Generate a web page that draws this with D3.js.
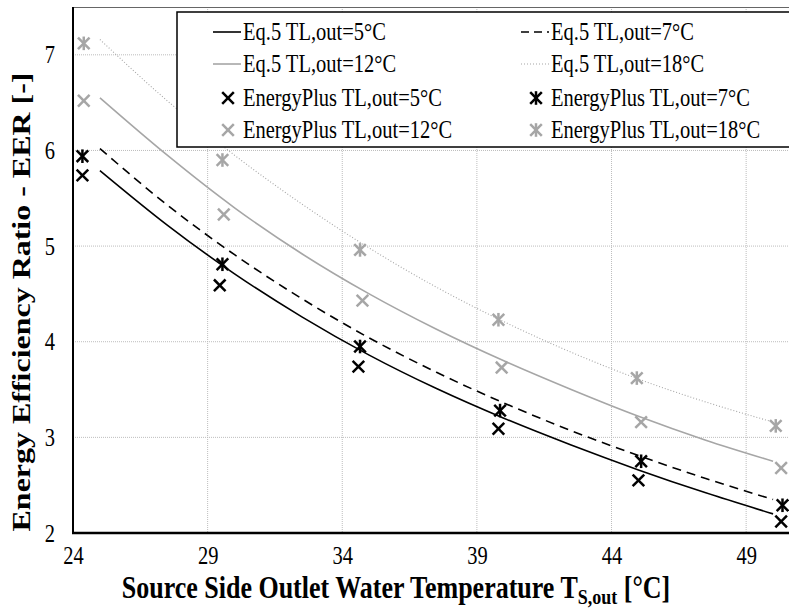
<!DOCTYPE html>
<html>
<head>
<meta charset="utf-8">
<script src="https://cdn.jsdelivr.net/npm/d3@7"></script>
<style>
  body { margin: 0; background: #fff; }
  svg { display: block; }
  text { font-family: "Liberation Serif", "Times New Roman", serif; fill: #000; }
</style>
</head>
<body>
<div id="chart"></div>
<script>
// tick labels
var xTicks = [24, 29, 34, 39, 44, 49];
var yTicks = [2, 3, 4, 5, 6, 7];

// Eq.5 curves
var eqX = [25, 27.5, 30, 32.5, 35, 37.5, 40, 42.5, 45, 47.5, 50];
var eq5 = [5.79, 5.22, 4.71, 4.26, 3.86, 3.51, 3.20, 2.92, 2.66, 2.42, 2.20];
var eq7 = [6.02, 5.43, 4.91, 4.45, 4.04, 3.68, 3.36, 3.07, 2.81, 2.57, 2.35];
var eq12 = [6.55, 5.95, 5.40, 4.92, 4.50, 4.13, 3.80, 3.50, 3.22, 2.97, 2.75];
var eq18 = [7.16, 6.52, 5.95, 5.44, 4.98, 4.57, 4.21, 3.89, 3.61, 3.37, 3.16];

// EnergyPlus points
var ep5X = [24.35, 29.45, 34.6, 39.8, 45.0, 50.3];
var ep5 = [5.74, 4.59, 3.74, 3.09, 2.55, 2.12];
var ep7X = [24.35, 29.55, 34.66, 39.86, 45.1, 50.35];
var ep7 = [5.94, 4.81, 3.95, 3.28, 2.75, 2.29];
var ep12X = [24.4, 29.6, 34.75, 39.92, 45.1, 50.3];
var ep12 = [6.52, 5.33, 4.43, 3.73, 3.16, 2.68];
var ep18X = [24.4, 29.55, 34.66, 39.8, 44.94, 50.1];
var ep18 = [7.12, 5.90, 4.96, 4.23, 3.62, 3.12];

var grey = "#a6a6a6";
var stretch = 1.18;   // the source picture is taller than wide

var width = 789, height = 611;
var svg = d3.select("#chart").append("svg")
    .attr("width", width)
    .attr("height", height);

var x = d3.scaleLinear().domain([24, 51]).range([73, 800]);
var y = d3.scaleLinear().domain([2, 7.5]).range([533, 7]);

// grid
svg.append("g").selectAll("line")
    .data(yTicks.slice(1))
    .enter().append("line")
    .attr("x1", x(24)).attr("x2", width)
    .attr("y1", d => y(d)).attr("y2", d => y(d))
    .attr("stroke", "#bdbdbd").attr("stroke-dasharray", "1,1");
svg.append("g").selectAll("line")
    .data(xTicks.slice(1))
    .enter().append("line")
    .attr("x1", d => x(d)).attr("x2", d => x(d))
    .attr("y1", y(7.5)).attr("y2", y(2))
    .attr("stroke", "#bdbdbd").attr("stroke-dasharray", "1,1");

// top frame line
svg.append("line")
    .attr("x1", x(24)).attr("x2", width)
    .attr("y1", y(7.5) + 0.5).attr("y2", y(7.5) + 0.5)
    .attr("stroke", "#666").attr("stroke-width", 1);

// axes
var yAxis = svg.append("g")
    .attr("transform", "translate(" + x(24) + ",0)")
    .call(d3.axisLeft(y).tickValues(yTicks).tickSize(0).tickPadding(18).tickFormat(d3.format("d")));
var xAxis = svg.append("g")
    .attr("transform", "translate(0," + y(2) + ")")
    .call(d3.axisBottom(x).tickValues(xTicks).tickSize(0).tickPadding(10).tickFormat(d3.format("d")));
[yAxis, xAxis].forEach(function (a) {
    a.select(".domain").remove();
    a.attr("font-family", null).attr("font-size", null);
    a.selectAll("text")
        .attr("font-size", 20.5)
        .attr("fill", "#000");
});
// stretch tick labels vertically
yAxis.selectAll(".tick text")
    .attr("dy", null)
    .attr("dominant-baseline", "central")
    .attr("transform", "scale(1," + stretch + ")");
xAxis.selectAll(".tick text")
    .attr("dy", null)
    .attr("y", 0)
    .attr("transform", "translate(0,31) scale(1," + stretch + ")");

svg.append("line")
    .attr("x1", x(24)).attr("x2", x(24))
    .attr("y1", y(7.5)).attr("y2", y(2) + 1)
    .attr("stroke", "#000").attr("stroke-width", 2);
svg.append("line")
    .attr("x1", x(24) - 1).attr("x2", width)
    .attr("y1", y(2)).attr("y2", y(2))
    .attr("stroke", "#000").attr("stroke-width", 2.5);

// lines
var line = d3.line()
    .x(d => x(d[0]))
    .y(d => y(d[1]))
    .curve(d3.curveMonotoneX);

var curves = [
    {vals: eq5, color: "#000", dash: null, w: 1.6},
    {vals: eq7, color: "#000", dash: "9,6", w: 1.6},
    {vals: eq12, color: grey, dash: null, w: 1.6},
    {vals: eq18, color: grey, dash: "1,2", w: 1.1}
];
curves.forEach(function (c) {
    svg.append("path")
        .datum(eqX.map((v, i) => [v, c.vals[i]]))
        .attr("d", line)
        .attr("fill", "none")
        .attr("stroke", c.color)
        .attr("stroke-width", c.w)
        .attr("stroke-dasharray", c.dash);
});

// markers
function cross(g, cx, cy, color, star) {
    var s = 5.8;
    var m = g.append("g").attr("transform", "translate(" + cx + "," + cy + ")")
        .attr("stroke", color).attr("stroke-width", 2.5);
    m.append("line").attr("x1", -s).attr("y1", -s).attr("x2", s).attr("y2", s);
    m.append("line").attr("x1", -s).attr("y1", s).attr("x2", s).attr("y2", -s);
    if (star) {
        m.append("line").attr("x1", 0).attr("y1", -s - 1).attr("x2", 0).attr("y2", s + 1);
    }
}

var points = [
    {xs: ep5X, vals: ep5, color: "#000", star: false},
    {xs: ep7X, vals: ep7, color: "#000", star: true},
    {xs: ep12X, vals: ep12, color: grey, star: false},
    {xs: ep18X, vals: ep18, color: grey, star: true}
];
var markG = svg.append("g");
points.forEach(function (p) {
    p.xs.forEach(function (v, i) {
        cross(markG, x(v), y(p.vals[i]), p.color, p.star);
    });
});

// legend
var legend = svg.append("g");
legend.append("rect")
    .attr("x", 177).attr("y", 12)
    .attr("width", 700).attr("height", 135)
    .attr("fill", "#fff").attr("stroke", "#000").attr("stroke-width", 1.5);

var legendItems = [
    {label: "Eq.5 TL,out=5°C", type: "line", c: curves[0]},
    {label: "Eq.5 TL,out=7°C", type: "line", c: curves[1]},
    {label: "Eq.5 TL,out=12°C", type: "line", c: curves[2]},
    {label: "Eq.5 TL,out=18°C", type: "line", c: curves[3]},
    {label: "EnergyPlus TL,out=5°C", type: "mark", c: points[0]},
    {label: "EnergyPlus TL,out=7°C", type: "mark", c: points[1]},
    {label: "EnergyPlus TL,out=12°C", type: "mark", c: points[2]},
    {label: "EnergyPlus TL,out=18°C", type: "mark", c: points[3]}
];
var colX = [213, 521];
var rowY = [32, 64, 98, 130];
legendItems.forEach(function (it, i) {
    var lx = colX[i % 2], ly = rowY[Math.floor(i / 2)];
    if (it.type === "line") {
        legend.append("line")
            .attr("x1", lx).attr("x2", lx + 28)
            .attr("y1", ly).attr("y2", ly)
            .attr("stroke", it.c.color)
            .attr("stroke-width", it.c.w)
            .attr("stroke-dasharray", it.c.dash ? (it.c.dash === "9,6" ? "8,5" : it.c.dash) : null);
    } else {
        cross(legend, lx + 15, ly, it.c.color, it.c.star);
    }
    legend.append("text")
        .attr("transform", "translate(" + (lx + 30) + "," + (ly + 8) + ") scale(1," + stretch + ")")
        .attr("font-size", 20.5)
        .text(it.label);
});

// axis titles
svg.append("text")
    .attr("transform", "translate(30,302) scale(1,1.23) rotate(-90)")
    .attr("text-anchor", "middle")
    .attr("font-size", 26)
    .attr("font-weight", "bold")
    .text("Energy Efficiency Ratio - EER [-]");

var xt = svg.append("text")
    .attr("transform", "translate(396,598) scale(1,1.2)")
    .attr("text-anchor", "middle")
    .attr("font-size", 26)
    .attr("font-weight", "bold");
xt.append("tspan").text("Source Side Outlet Water Temperature T");
xt.append("tspan").attr("font-size", 18).attr("dy", 5).text("S,out");
xt.append("tspan").attr("dy", -5).text(" [°C]");
</script>
</body>
</html>
